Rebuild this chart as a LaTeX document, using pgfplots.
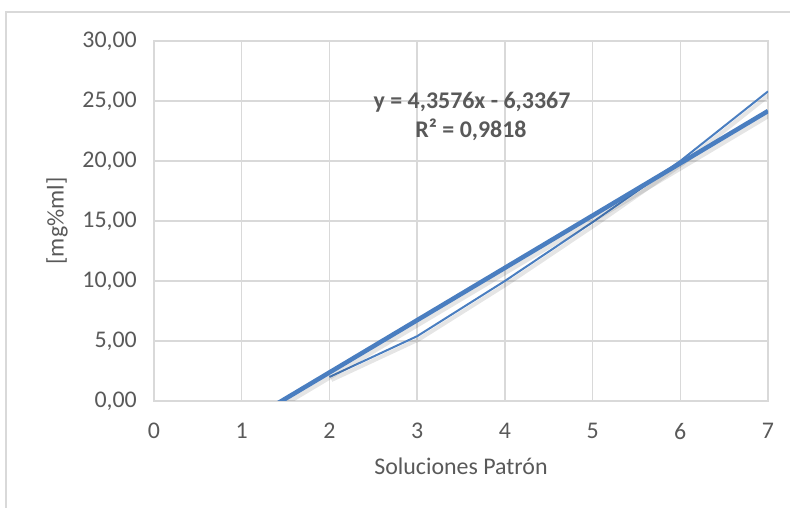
\documentclass[border=0pt]{standalone}
\usepackage{fontspec}
\setmainfont{Carlito}
\usepackage{pgfplots}
\pgfplotsset{compat=1.18}
\definecolor{gridc}{HTML}{D9D9D9}
\definecolor{txt}{HTML}{595959}
\definecolor{ser}{HTML}{4A7EC0}
\begin{document}
\fontsize{24}{29}\selectfont
\begin{tikzpicture}
\useasboundingbox (0,0) rectangle (790bp,508bp);
\draw[gridc, line width=1.5bp] (6bp,-2bp) -- (6bp,496bp) -- (792bp,496bp);
\begin{axis}[
  at={(154bp,107bp)}, anchor=south west,
  scale only axis, width=614bp, height=360bp,
  xmin=0, xmax=7, ymin=0, ymax=30,
  xtick={0,1,...,7}, ytick={0,5,...,30},
  grid=major, major grid style={gridc, line width=1.5bp},
  axis line style={gridc, line width=1.5bp},
  tick style={draw=none},
  /pgf/number format/assume math mode=true,
  ticklabel style={txt, font=\fontsize{24}{29}\selectfont},
  xticklabel style={yshift=-14bp},
  yticklabel style={xshift=-9bp, /pgf/number format/.cd, fixed, fixed zerofill, precision=2, use comma},
  clip=true,
]
\addplot[ser, line width=2bp, line join=round,
  preaction={draw=black, draw opacity=0.10, line width=4bp, transform canvas={shift={(2bp,-3bp)}}}]
  coordinates {(2,2.0) (3,5.4) (4,10.0) (5,14.9) (6,20.0) (7,25.8)};
\addplot[ser, line width=4.5bp,
  preaction={draw=black, draw opacity=0.10, line width=6bp, transform canvas={shift={(2bp,-3bp)}}}]
  coordinates {(1,-1.9791) (7,24.1665)};
\end{axis}
\node[txt, rotate=90] at (57bp,287bp) {[mg\%ml]};
\node[txt] at (461bp,42bp) {Soluciones Patrón};
\node[txt, font=\fontsize{24}{29}\selectfont\bfseries] at (472bp,406bp) {y = 4,3576x - 6,3367};
\node[txt, font=\fontsize{24}{29}\selectfont\bfseries] at (471bp,378bp) {R² = 0,9818};
\end{tikzpicture}
\end{document}
